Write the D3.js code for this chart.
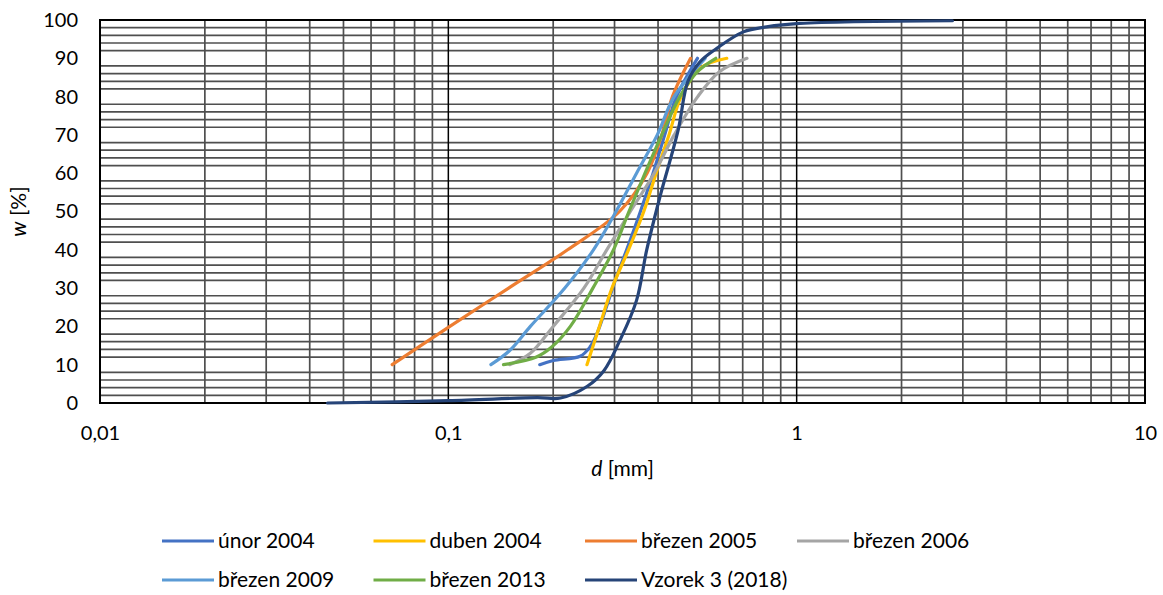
<!DOCTYPE html>
<html lang="cs">
<head>
    <meta charset="utf-8">
    <title>Křivky zrnitosti</title>
    <style type="text/css">
        body{
            margin: 0;
            background: #fff;
        }
        .chart text{
            font-family: Lato, "Open Sans", sans-serif;
            fill: #000;
        }
        .chart .grid-minor{
            stroke: #4f4f4f;
            stroke-width: 1.7;
        }
        .chart .grid-major{
            stroke: #000;
            stroke-width: 1.5;
        }
        .chart .frame{
            fill: none;
            stroke: #000;
            stroke-width: 2;
        }
        .chart .series{
            fill: none;
            stroke-width: 3.2;
            stroke-linecap: round;
            stroke-linejoin: round;
        }
    </style>
</head>
<body>
    <svg class="chart" width="1163" height="595"></svg>

    <script src="https://d3js.org/d3.v7.min.js"></script>
    <script>
        // data: [d (mm), w (%)]
        var unor2004   = [[0.183,10],[0.200,11.1],[0.239,12.2],[0.255,14.6],[0.267,18.1],[0.304,33],[0.325,40],[0.356,50],[0.387,60],[0.418,70],[0.452,80],[0.519,90]];
        var duben2004  = [[0.250,10],[0.2715,20],[0.295,30],[0.329,40],[0.364,50],[0.395,60],[0.430,70],[0.466,80],[0.530,87.5],[0.630,90]];
        var brezen2005 = [[0.069,10],[0.101,20],[0.149,30],[0.220,40],[0.310,50],[0.372,60],[0.410,70],[0.440,80],[0.496,90]];
        var brezen2006 = [[0.150,10],[0.1716,12.9],[0.200,20],[0.245,30],[0.285,40],[0.333,50],[0.390,60],[0.445,70],[0.520,80],[0.600,86.5],[0.720,90]];
        var brezen2009 = [[0.1325,10],[0.150,13.7],[0.172,20],[0.216,30],[0.261,40],[0.303,50],[0.347,60],[0.398,70],[0.445,80],[0.546,90]];
        var brezen2013 = [[0.144,10],[0.179,12],[0.198,14.6],[0.224,20],[0.260,30],[0.298,40],[0.330,50],[0.367,60],[0.410,70],[0.462,80],[0.519,86.5],[0.586,90]];
        var vzorek2018 = [[0.045,0],[0.100,0.6],[0.180,1.4],[0.210,1.3],[0.250,4.3],[0.280,8.5],[0.311,16.4],[0.347,26.8],[0.371,39.9],[0.405,53.8],[0.457,71.3],[0.487,83.9],[0.528,89.1],[0.590,92.6],[0.703,96.9],[0.820,98.2],[1.02,99.1],[2.80,99.8]];

        var seriesNames  = ['únor 2004', 'duben 2004', 'březen 2005', 'březen 2006', 'březen 2009', 'březen 2013', 'Vzorek 3 (2018)'];
        var seriesColors = ['#4472C4', '#FFC000', '#ED7D31', '#A5A5A5', '#5B9BD5', '#70AD47', '#264478'];
        var seriesData   = [unor2004, duben2004, brezen2005, brezen2006, brezen2009, brezen2013, vzorek2018];

        var xTicks = [0.01, 0.1, 1, 10];
        var xTickLabels = ['0,01', '0,1', '1', '10'];
        var yTicks = d3.range(0, 101, 10);

        var svg = d3.select('.chart'),
            plot = {left: 100, right: 1145, top: 20, bottom: 403};

        var x = d3.scaleLog().domain([0.01, 10]).range([plot.left, plot.right]);
        var y = d3.scaleLinear().domain([0, 100]).range([plot.bottom, plot.top]);

        // mřížka - vedlejší svislé čáry (2..9 v každé dekádě)
        var xMinor = [];
        [0.01, 0.1, 1].forEach(function(dec){
            for (var k = 2; k <= 9; k++) xMinor.push(k * dec);
        });
        var grid = svg.append('g').attr('class', 'grid');

        grid.selectAll('.vx')
            .data(xMinor)
            .enter()
            .append('line')
            .attr('class', 'grid-minor')
            .attr('x1', function(d){ return x(d); })
            .attr('x2', function(d){ return x(d); })
            .attr('y1', plot.top)
            .attr('y2', plot.bottom);

        // vodorovné čáry po 2 %, bez násobků 10
        var yMinor = d3.range(2, 100, 2).filter(function(v){ return v % 10 !== 0; });
        grid.selectAll('.hy')
            .data(yMinor)
            .enter()
            .append('line')
            .attr('class', 'grid-minor')
            .attr('x1', plot.left)
            .attr('x2', plot.right)
            .attr('y1', function(d){ return y(d); })
            .attr('y2', function(d){ return y(d); });

        // hlavní svislé čáry
        grid.selectAll('.mx')
            .data([0.1, 1])
            .enter()
            .append('line')
            .attr('class', 'grid-major')
            .attr('x1', function(d){ return x(d); })
            .attr('x2', function(d){ return x(d); })
            .attr('y1', plot.top)
            .attr('y2', plot.bottom);

        svg.append('rect')
            .attr('class', 'frame')
            .attr('x', plot.left)
            .attr('y', plot.top)
            .attr('width', plot.right - plot.left)
            .attr('height', plot.bottom - plot.top);

        // osy
        var xAxis = d3.axisBottom(x)
            .tickValues(xTicks)
            .tickSize(0)
            .tickPadding(23)
            .tickFormat(function(d, i){ return xTickLabels[i]; });

        var yAxis = d3.axisLeft(y)
            .tickValues(yTicks)
            .tickSize(0)
            .tickPadding(22);

        var gx = svg.append('g')
            .attr('transform', 'translate(0,' + plot.bottom + ')')
            .call(xAxis);
        var gy = svg.append('g')
            .attr('transform', 'translate(' + plot.left + ',0)')
            .call(yAxis);

        [gx, gy].forEach(function(g){
            g.select('.domain').remove();
            g.selectAll('text')
                .style('font-family', 'Lato, "Open Sans", sans-serif')
                .style('font-size', '20px')
                .attr('fill', '#000');
        });

        // popisky os
        var xTitle = svg.append('text')
            .attr('x', (plot.left + plot.right) / 2)
            .attr('y', 476)
            .attr('text-anchor', 'middle')
            .style('font-size', '21px');
        xTitle.append('tspan').style('font-style', 'italic').text('d');
        xTitle.append('tspan').text(' [mm]');

        var yTitle = svg.append('text')
            .attr('transform', 'translate(26,' + ((plot.top + plot.bottom) / 2) + ') rotate(-90)')
            .attr('text-anchor', 'middle')
            .style('font-size', '21px');
        yTitle.append('tspan').style('font-style', 'italic').text('w');
        yTitle.append('tspan').text(' [%]');

        // křivky
        var line = d3.line()
            .x(function(d){ return x(d[0]); })
            .y(function(d){ return y(d[1]); })
            .curve(d3.curveCatmullRom.alpha(0.5));

        svg.append('g')
            .selectAll('path')
            .data(seriesData)
            .enter()
            .append('path')
            .attr('class', 'series')
            .attr('stroke', function(d, i){ return seriesColors[i]; })
            .attr('d', line);

        // legenda
        var legendCols = [162, 373.5, 585, 797],
            legendRows = [541, 580];

        var legend = svg.append('g')
            .selectAll('g')
            .data(seriesNames)
            .enter()
            .append('g')
            .attr('transform', function(d, i){
                return 'translate(' + legendCols[i % 4] + ',' + legendRows[Math.floor(i / 4)] + ')';
            });

        legend.append('line')
            .attr('x1', 0)
            .attr('x2', 52)
            .attr('stroke', function(d, i){ return seriesColors[i]; })
            .attr('stroke-width', 3.2);

        legend.append('text')
            .attr('x', 56)
            .attr('dy', '0.35em')
            .style('font-size', '21px')
            .text(function(d){ return d; });
    </script>
</body>
</html>
